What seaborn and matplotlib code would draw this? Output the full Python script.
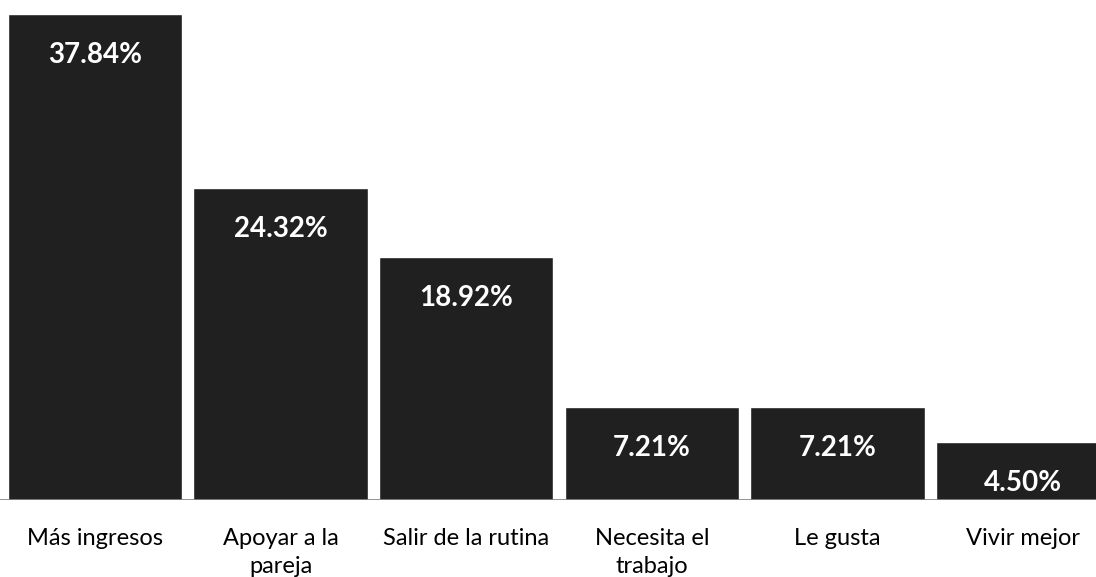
import matplotlib.pyplot as plt
import seaborn as sns
import pandas as pd

# datos
categorias = ["Más ingresos", "Apoyar a la\npareja", "Salir de la rutina",
              "Necesita el\ntrabajo", "Le gusta", "Vivir mejor"]
porcentajes = [37.84, 24.32, 18.92, 7.21, 7.21, 4.50]
etiquetas = ["37.84%", "24.32%", "18.92%", "7.21%", "7.21%", "4.50%"]

sns.set_theme(style="white")
plt.rcParams["font.family"] = ["Lato", "DejaVu Sans"]

df = pd.DataFrame({"categoria": categorias, "valor": porcentajes})

fig = plt.figure(figsize=(10.96, 5.77), dpi=100)
ax = fig.add_axes([0, 77 / 577, 1, 500 / 577])

sns.barplot(data=df, x="categoria", y="valor", color="#202020",
            saturation=1, width=0.94, ax=ax)

for i, (v, lab) in enumerate(zip(porcentajes, etiquetas)):
    ax.annotate(lab, xy=(i, v), xytext=(0, -20), textcoords="offset points",
                ha="center", va="top", color="white", fontsize=20,
                fontweight="bold")

ax.set_xlim(-0.512, 5.393)
ax.set_ylim(0, 38.94)
ax.axhline(0, color="#808080", linewidth=1.2)

ax.set_xlabel("")
ax.set_ylabel("")
ax.set_yticks([])
ax.tick_params(axis="x", length=0, pad=20, labelsize=17, colors="black")
for t in ax.get_xticklabels():
    t.set_linespacing(1.4)
for s in ax.spines.values():
    s.set_visible(False)

fig.savefig("out.png", dpi=100)
